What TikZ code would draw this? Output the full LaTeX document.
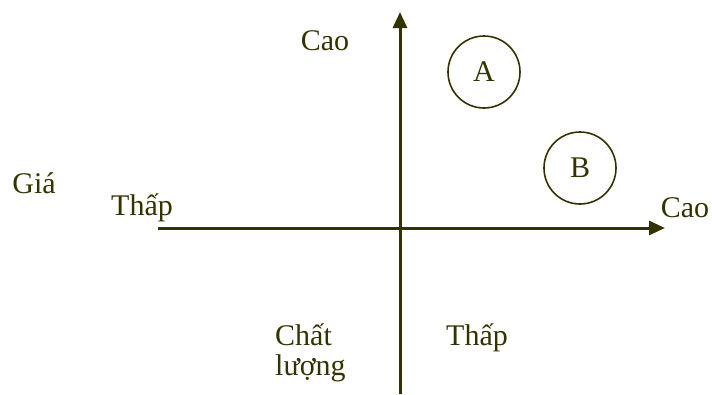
\documentclass[tikz,border=0pt]{standalone}
\usepackage{fontspec}
\setmainfont{Liberation Serif}
\usetikzlibrary{arrows.meta}
\definecolor{olive}{HTML}{333300}

\begin{document}
\begin{tikzpicture}[
    x=1pt, y=-1pt,
    % Estilos para no repetir codigo
    axis/.style={draw=olive, line width=3pt, -{Triangle[length=16pt,width=14pt]}},
    item/.style={circle, draw=olive, line width=1.6pt, minimum size=72pt, inner sep=0pt, text=olive, font=\fontsize{30}{30}\selectfont},
    lbl/.style={text=olive, font=\fontsize{30}{30}\selectfont, inner sep=0pt, anchor=base}
  ]
  \useasboundingbox (0,0) rectangle (712,394);

  % 1. Extremos de los ejes
  \coordinate (ybot) at (400,394);
  \coordinate (ytop) at (400,12);
  \coordinate (xleft) at (158,228);
  \coordinate (xright) at (665,228);

  % 2. Ejes
  \draw[axis] (ybot) -- (ytop);
  \draw[axis] (xleft) -- (xright);

  % 3. Circulos A y B
  \node[item] (a) at (484,72) {A};
  \node[item] (b) at (580,168) {B};

  % 4. Etiquetas (posicion en la linea base)
  \node[lbl] (ycao) at (325,50) {Cao};
  \node[lbl] (xcao) at (685,217) {Cao};
  \node[lbl] (gia) at (34,193) {Giá};
  \node[lbl] (xthap) at (142,215) {Thấp};
  \node[lbl] (ythap) at (477,345) {Thấp};
  \node[lbl, anchor=base west] (chat) at (275,345) {Chất};
  \node[lbl, anchor=base west] (luong) at (275,375) {lượng};

\end{tikzpicture}
\end{document}
